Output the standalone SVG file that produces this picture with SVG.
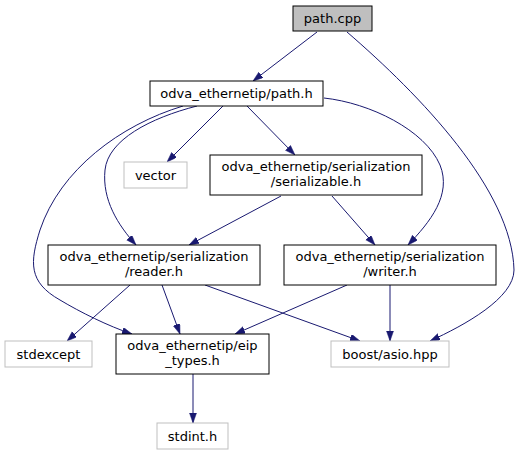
<svg xmlns="http://www.w3.org/2000/svg" width="520" height="455" viewBox="0 0 520 455">
<style>
.n rect{fill:#ffffff;stroke:#000000;stroke-width:1}
.n.root rect{fill:#bfbfbf}
.n.ext rect{stroke:#bfbfbf}
.n text{font-family:"DejaVu Sans",sans-serif;font-size:13px;fill:#000000;text-anchor:middle}
.e path{fill:none;stroke:#191970;stroke-width:1;marker-end:url(#ah)}
</style>
<defs>
<marker id="ah" markerUnits="userSpaceOnUse" markerWidth="10" markerHeight="8" refX="10" refY="3.5" orient="auto">
<path d="M0,0 L10,3.5 L0,7 z" fill="#191970" stroke="#191970" stroke-width="0.5"/>
</marker>
</defs>
<rect width="520" height="455" fill="#ffffff"/>
<g id="edges" class="e">
<path d="M317,32 L253,81"/>
<path d="M347,32 C420,95 512,190 514,270 C514,298 465,325 430,341"/>
<path d="M223,106 L167,162"/>
<path d="M247,106 L295,155"/>
<path d="M324,98 C370,103 425,130 440,165 C452,195 430,222 408,245"/>
<path d="M197,106 C150,118 108,140 105,170 C102,200 118,225 136,245"/>
<path d="M183,106 C120,125 60,170 40,230 C30,262 28,282 60,300 C80,312 108,326 132,334"/>
<path d="M281,196 L189,245"/>
<path d="M332,196 L375,245"/>
<path d="M130,285 L67,341"/>
<path d="M162,285 L180,334"/>
<path d="M205,285 L360,341"/>
<path d="M347,285 L235,334"/>
<path d="M390,285 L390,341"/>
<path d="M193,374 L193,423"/>
</g>
<g id="node-path-cpp" class="n root">
<rect x="293" y="6" width="79" height="25"/>
<text x="332.5" y="23">path.cpp</text>
</g>
<g id="node-path-h" class="n">
<rect x="150" y="81" width="173" height="25"/>
<text x="236.5" y="98">odva_ethernetip/path.h</text>
</g>
<g id="node-vector" class="n ext">
<rect x="124" y="162" width="63" height="26"/>
<text x="155.5" y="179.5">vector</text>
</g>
<g id="node-serializable" class="n">
<rect x="210" y="155" width="212" height="40"/>
<text x="316" y="171">odva_ethernetip/serialization</text>
<text x="316" y="186">/serializable.h</text>
</g>
<g id="node-reader" class="n">
<rect x="48" y="245" width="212" height="40"/>
<text x="154" y="261">odva_ethernetip/serialization</text>
<text x="154" y="276">/reader.h</text>
</g>
<g id="node-writer" class="n">
<rect x="284" y="245" width="212" height="40"/>
<text x="390" y="261">odva_ethernetip/serialization</text>
<text x="390" y="276">/writer.h</text>
</g>
<g id="node-stdexcept" class="n ext">
<rect x="5" y="341" width="87" height="26"/>
<text x="48.5" y="358.5">stdexcept</text>
</g>
<g id="node-eip-types" class="n">
<rect x="116" y="334" width="153" height="40"/>
<text x="192.5" y="350">odva_ethernetip/eip</text>
<text x="192.5" y="365">_types.h</text>
</g>
<g id="node-boost-asio" class="n ext">
<rect x="331" y="341" width="118" height="26"/>
<text x="390" y="358.5">boost/asio.hpp</text>
</g>
<g id="node-stdint" class="n ext">
<rect x="157" y="423" width="71" height="26"/>
<text x="192.5" y="440.5">stdint.h</text>
</g>
</svg>
